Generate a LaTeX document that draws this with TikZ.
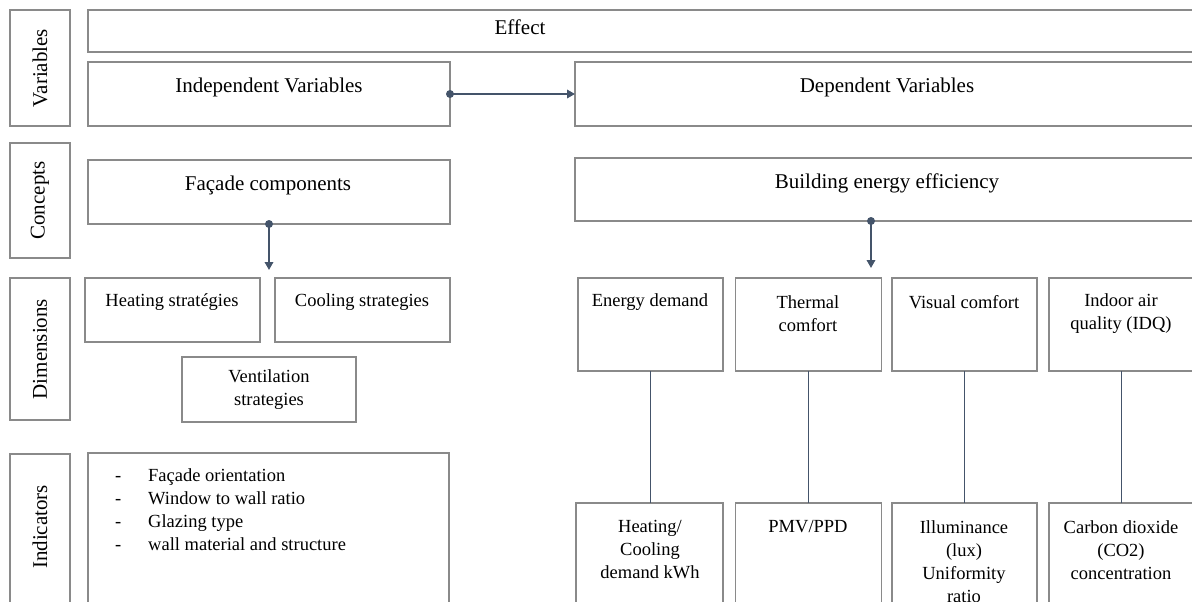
\documentclass[tikz,border=0pt]{standalone}
\usepackage{fontspec}
\setmainfont{Liberation Serif}
\usetikzlibrary{arrows.meta}
\definecolor{boxgray}{HTML}{8A8A8A}
\definecolor{conncol}{HTML}{44546A}
\begin{document}
\begin{tikzpicture}[x=1pt,y=-1pt,
  box/.style={draw=boxgray, line width=1.3pt, inner sep=0pt, outer sep=0pt},
  big/.style={font=\fontsize{21}{25}\selectfont, inner sep=0pt, align=center},
  small/.style={font=\fontsize{18.5}{23}\selectfont, inner sep=0pt, align=center},
  conn/.style={draw=conncol, line width=1.8pt, -{Triangle[length=8pt,width=8.5pt]}},
  link/.style={draw=conncol, line width=1.3pt},
  dot/.style={fill=conncol}]
\useasboundingbox (0,0) rectangle (1192,602);
\clip (0,0) rectangle (1192,602);

% row labels
\node[box, big, rotate=90, minimum width=116pt, minimum height=60pt] (lvar) at (40,68) {Variables};
\node[box, big, rotate=90, minimum width=115pt, minimum height=60pt] (lcon) at (40,200.5) {Concepts};
\node[box, big, rotate=90, minimum width=142pt, minimum height=60pt] (ldim) at (40,349) {Dimensions};
\node[box, rotate=90, minimum width=186pt, minimum height=60pt] (lind) at (40,547) {};
\node[big, rotate=90] (tind) at (40,527) {Indicators};

% variables
\node[box, minimum width=1112pt, minimum height=42pt] (eff) at (644,31) {};
\node[big] (teff) at (520,27) {Effect};
\node[box, minimum width=362pt, minimum height=64pt] (iv) at (269,94) {};
\node[big] (tiv) at (269,87) {Independent Variables};
\node[box, minimum width=625pt, minimum height=64pt] (dv) at (887.5,94) {};
\node[big] (tdv) at (887,87) {Dependent Variables};

% concepts
\node[box, minimum width=362pt, minimum height=64pt] (fc) at (269,192) {};
\node[big] (tfc) at (268,185) {Façade components};
\node[box, minimum width=625pt, minimum height=63pt] (be) at (887.5,189.5) {};
\node[big] (tbe) at (887,183) {Building energy efficiency};

% dimensions left
\node[box, minimum width=175pt, minimum height=64pt] (hs) at (172.5,310) {};
\node[small] (ths) at (172,302) {Heating stratégies};
\node[box, minimum width=175pt, minimum height=64pt] (cs) at (362.5,310) {};
\node[small] (tcs) at (362,302) {Cooling strategies};
\node[box, small, minimum width=174pt, minimum height=65pt] (vs) at (269,389.5) {Ventilation\\strategies};

% dimensions right
\node[box, minimum width=145pt, minimum height=93pt] (ed) at (650.5,324.5) {};
\node[small] (ted) at (650,302) {Energy demand};
\node[box, minimum width=146pt, minimum height=93pt] (tc) at (808.5,324.5) {};
\node[small] (ttc) at (808,313.5) {Thermal\\comfort};
\node[box, minimum width=145pt, minimum height=93pt] (vc) at (964.5,324.5) {};
\node[small] (tvc) at (964,302) {Visual comfort};
\node[box, minimum width=145pt, minimum height=93pt] (iaq) at (1121.5,324.5) {};
\node[small] (tiaq) at (1121,313.5) {Indoor air\\quality (IDQ)};

% indicators
\node[box, minimum width=361pt, minimum height=207pt] (lst) at (268.5,556.5) {};
\node[anchor=west, font=\fontsize{18.5}{23}\selectfont, inner sep=0pt, align=left] (tlst) at (115,510)
  {\makebox[33pt][l]{-}Façade orientation\\
   \makebox[33pt][l]{-}Window to wall ratio\\
   \makebox[33pt][l]{-}Glazing type\\
   \makebox[33pt][l]{-}wall material and structure};
\node[box, minimum width=147pt, minimum height=157pt] (hc) at (649.5,581.5) {};
\node[small] (thc) at (650,550) {Heating/\\Cooling\\demand kWh};
\node[box, minimum width=146pt, minimum height=157pt] (pmv) at (808.5,581.5) {};
\node[small] (tpmv) at (808,527) {PMV/PPD};
\node[box, minimum width=145pt, minimum height=157pt] (ill) at (964.5,581.5) {};
\node[small] (till) at (964,561.5) {Illuminance\\(lux)\\Uniformity\\ratio};
\node[box, minimum width=145pt, minimum height=157pt] (co2) at (1121.5,581.5) {};
\node[small] (tco2) at (1121,550) {Carbon dioxide\\(CO2)\\concentration};

% connectors
\draw[conn] (iv.east) -- (dv.west);
\fill[dot] (iv.east) circle (4pt);
\coordinate (fce) at (269,270);
\draw[conn] (fc.south) -- (fce);
\fill[dot] (fc.south) circle (4pt);
\coordinate (bes) at ([xshift=296pt]be.south west);
\coordinate (bee) at (871,268);
\draw[conn] (bes) -- (bee);
\fill[dot] (bes) circle (4pt);

\draw[link] (ed.south) -- (ed.south |- hc.north);
\draw[link] (tc.south) -- (tc.south |- pmv.north);
\draw[link] (vc.south) -- (vc.south |- ill.north);
\draw[link] (iaq.south) -- (iaq.south |- co2.north);
\end{tikzpicture}
\end{document}
